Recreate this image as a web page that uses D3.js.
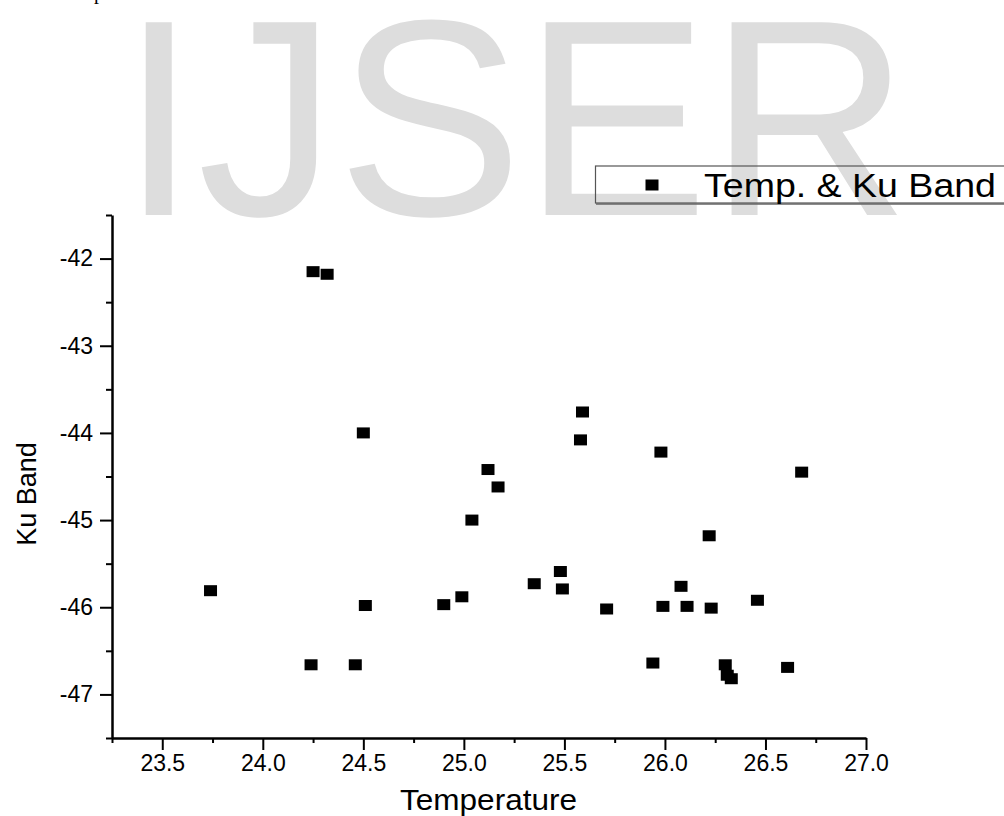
<!DOCTYPE html>
<html lang="en">
<head>
    <meta charset="UTF-8">
    <title>Temp. & Ku Band</title>
    <script src="https://d3js.org/d3.v7.min.js"></script>
    <style>
        body{
            margin: 0;
            background-color: white;
        }
        svg text{
            font-family: "Liberation Sans", Arial, sans-serif;
        }
        .axis path, .axis line{
            stroke: black;
        }
    </style>
</head>
<body>
<svg id="chart" width="1004" height="816"></svg>
<script>
    // values
    let temperature = [24.25, 24.32, 24.50, 24.51, 24.24, 24.46, 23.74, 24.90, 24.99, 25.04,
        25.12, 25.17, 25.35, 25.48, 25.49, 25.58, 25.59, 25.71, 25.94, 25.98,
        25.99, 26.08, 26.11, 26.22, 26.23, 26.30, 26.31, 26.33, 26.46, 26.61, 26.68];
    let kuBand = [-42.15, -42.18, -44.00, -45.98, -46.66, -46.66, -45.81, -45.97, -45.88, -45.00,
        -44.42, -44.62, -45.73, -45.59, -45.79, -44.08, -43.76, -46.02, -46.64, -44.22,
        -45.99, -45.76, -45.99, -45.18, -46.01, -46.66, -46.78, -46.82, -45.92, -46.69, -44.45];
    let xMajor = [23.5, 24.0, 24.5, 25.0, 25.5, 26.0, 26.5, 27.0];
    let xMinor = [23.25, 23.75, 24.25, 24.75, 25.25, 25.75, 26.25, 26.75];
    let yMajor = [-47, -46, -45, -44, -43, -42];
    let yMinor = [-47.5, -46.5, -45.5, -44.5, -43.5, -42.5, -41.5];
    let seriesName = "Temp. & Ku Band";

    let svg = d3.select('svg');

    // watermark behind everything
    svg.append('text')
        .attr("x", 120)
        .attr("y", 215)
        .attr("textLength", 790)
        .attr("lengthAdjust", "spacingAndGlyphs")
        .style("font-size", "280px")
        .attr("fill", "#dddddd")
        .text("IJSER");
    // cut-off line of text from the page above
    svg.append('text')
        .attr("x", 94)
        .attr("y", -1)
        .style("font-family", "'Liberation Serif', serif")
        .style("font-size", "20px")
        .text("p");

    let x = d3.scaleLinear().domain([23.25, 27.0]).range([112, 866]);
    let y = d3.scaleLinear().domain([-47.5, -41.5]).range([738, 215]);

    // minor ticks
    svg.append('g').attr("class", "axis")
        .attr("transform", "translate(0,738)")
        .call(d3.axisBottom(x).tickValues(xMinor).tickSize(5).tickFormat(""))
        .call(g => g.select(".domain").remove())
        .selectAll("line").attr("stroke-width", 2);
    svg.append('g').attr("class", "axis")
        .attr("transform", "translate(112,0)")
        .call(d3.axisLeft(y).tickValues(yMinor).tickSize(6).tickFormat(""))
        .call(g => g.select(".domain").remove())
        .selectAll("line").attr("stroke-width", 2);

    let xAxis = svg.append('g').attr("class", "axis")
        .attr("transform", "translate(0,738)")
        .call(d3.axisBottom(x).tickValues(xMajor).tickSize(12).tickSizeOuter(0)
            .tickPadding(5).tickFormat(d3.format(".1f")));
    xAxis.select(".domain").attr("stroke-width", 2.5);
    xAxis.selectAll("line").attr("stroke-width", 2);
    xAxis.selectAll("text").style("font-size", "23px").attr("fill", "black");

    let yAxis = svg.append('g').attr("class", "axis")
        .attr("transform", "translate(112,0)")
        .call(d3.axisLeft(y).tickValues(yMajor).tickSize(12).tickSizeOuter(0)
            .tickPadding(7).tickFormat(d => String(d)));
    yAxis.select(".domain").attr("stroke-width", 2.5);
    yAxis.selectAll("line").attr("stroke-width", 2);
    yAxis.selectAll("text").style("font-size", "23px").attr("fill", "black");

    // axis titles
    svg.append('text')
        .attr("x", 400)
        .attr("y", 810)
        .attr("textLength", 177)
        .attr("lengthAdjust", "spacingAndGlyphs")
        .style("font-size", "29px")
        .text("Temperature");
    svg.append('text')
        .attr("transform", "translate(36,494) rotate(-90)")
        .attr("text-anchor", "middle")
        .style("font-size", "27px")
        .text("Ku Band");

    // points
    svg.append('g')
        .selectAll('rect')
        .data(temperature)
        .enter()
        .append('rect')
        .attr("x", (d, i) => x(d) - 6.5)
        .attr("y", (d, i) => y(kuBand[i]) - 5.5)
        .attr("width", 13)
        .attr("height", 11)
        .attr("fill", "black");

    // legend
    let legend = svg.append('g');
    legend.append('rect')
        .attr("x", 595.5)
        .attr("y", 166)
        .attr("width", 420)
        .attr("height", 37)
        .attr("fill", "none")
        .attr("stroke", "#555")
        .attr("stroke-width", 1.2);
    legend.append('line')
        .attr("x1", 596).attr("x2", 1004)
        .attr("y1", 204).attr("y2", 204)
        .attr("stroke", "#666").attr("stroke-width", 1.5);
    legend.append('rect')
        .attr("x", 645.5)
        .attr("y", 179.5)
        .attr("width", 13)
        .attr("height", 11)
        .attr("fill", "black");
    legend.append('text')
        .attr("x", 704)
        .attr("y", 197)
        .attr("textLength", 292)
        .attr("lengthAdjust", "spacingAndGlyphs")
        .style("font-size", "34px")
        .text(seriesName);
</script>
</body>
</html>
